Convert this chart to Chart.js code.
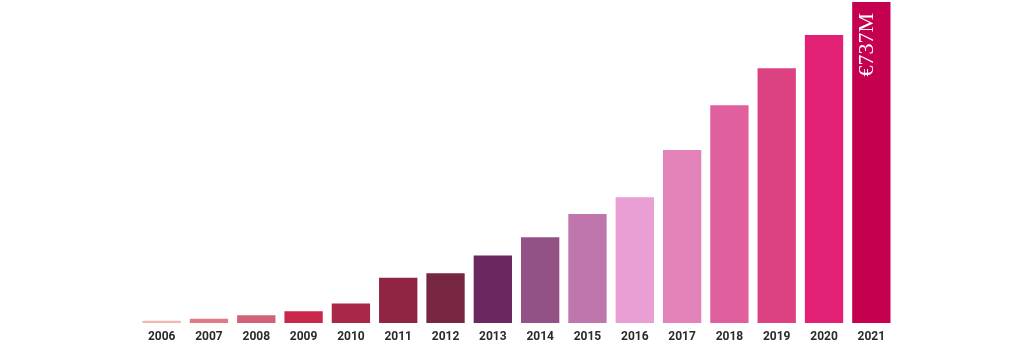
<!DOCTYPE html>
<html>
<head>
<meta charset="utf-8">
<script src="https://cdn.jsdelivr.net/npm/chart.js@4"></script>
<style>
html,body{margin:0;padding:0;background:#fff;overflow:hidden;height:340px;}
#wrap{width:1035px;height:351px;position:relative;}
</style>
</head>
<body>
<div id="wrap"><canvas id="c"></canvas></div>
<script>
const years = ["2006","2007","2008","2009","2010","2011","2012","2013","2014","2015","2016","2017","2018","2019","2020","2021"];
const revenue = [5, 10, 18, 27, 45, 104, 114, 155, 197, 250, 289, 397, 500, 585, 661, 737];
const barColors = ["#f2b9b4","#e07a86","#d06279","#c8294a","#a92848","#902443","#772642","#6a285e","#935286","#bf76ad","#e99ed4","#e381b9","#e0609d","#dc4282","#e22074","#c4004f"];
const topLabel = "€737M";

const labelPlugin = {
  id: 'topLabel',
  afterDatasetsDraw(chart) {
    const meta = chart.getDatasetMeta(0);
    const bar = meta.data[meta.data.length - 1];
    const ctx = chart.ctx;
    ctx.save();
    ctx.translate(bar.x + 2, bar.y + 11);
    ctx.rotate(-Math.PI / 2);
    ctx.fillStyle = '#ffffff';
    ctx.font = '22px "Liberation Serif", "Times New Roman", serif';
    ctx.textAlign = 'right';
    ctx.textBaseline = 'alphabetic';
    ctx.fillText(topLabel, 0, 0);
    ctx.restore();
  }
};

new Chart(document.getElementById('c'), {
  type: 'bar',
  data: {
    labels: years,
    datasets: [{
      data: revenue,
      backgroundColor: barColors,
      borderWidth: 0,
      barPercentage: 0.9,
      categoryPercentage: 0.9
    }]
  },
  options: {
    responsive: true,
    maintainAspectRatio: false,
    animation: false,
    layout: { padding: { left: 138, right: 140, top: 2, bottom: 0 } },
    plugins: { legend: { display: false }, tooltip: { enabled: false } },
    scales: {
      x: {
        grid: { display: false, drawTicks: false },
        border: { display: false },
        ticks: {
          padding: 8,
          color: '#2a2a2a',
          font: { family: 'Roboto', size: 12, weight: 'bold', lineHeight: 1 },
          maxRotation: 0,
          autoSkip: false
        }
      },
      y: {
        display: false,
        min: 0,
        max: 737
      }
    }
  },
  plugins: [labelPlugin]
});
</script>
</body>
</html>
